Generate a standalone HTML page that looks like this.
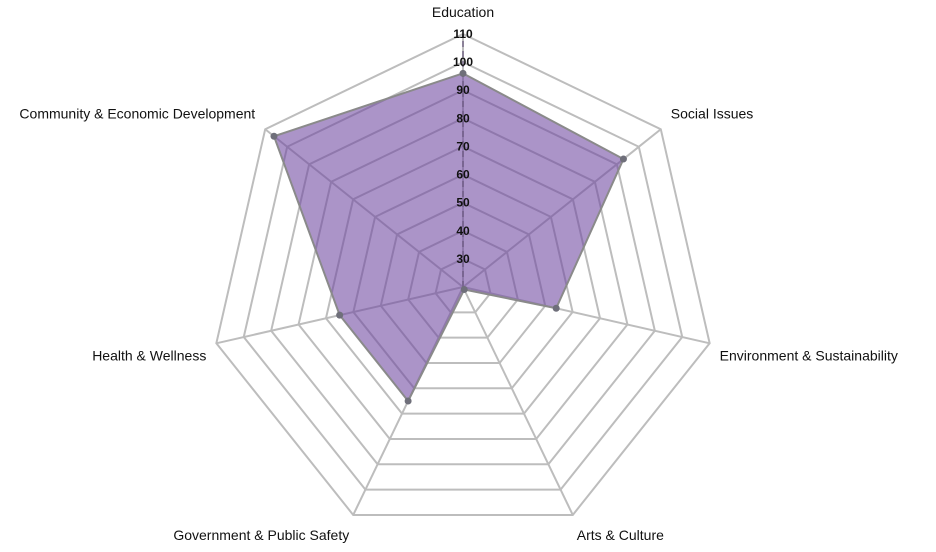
<!DOCTYPE html>
<html><head><meta charset="utf-8"><style>
html,body{margin:0;padding:0;background:#fff;}
svg{display:block;font-family:"Liberation Sans",sans-serif;}
</style></head><body>
<svg id="chart" width="936" height="552"></svg>
<script>
const categories=["Education","Social Issues","Environment & Sustainability","Arts & Culture","Government & Public Safety","Health & Wellness","Community & Economic Development"];
const values=[96,93,54,21,65,65,106];
const ticks=[30,40,50,60,70,80,90,100,110];
const rMin=20, rMax=110;
const cx=463, cy=287, R=253;
const NS="http://www.w3.org/2000/svg";
const svg=document.getElementById('chart');
const n=categories.length;
function rad(v){return (v-rMin)/(rMax-rMin)*R;}
function pt(i,v){const a=i*2*Math.PI/n;const r=rad(v);return [cx+r*Math.sin(a),cy-r*Math.cos(a)];}
function mk(t,attrs){const e=document.createElementNS(NS,t);for(const k in attrs)e.setAttribute(k,attrs[k]);svg.appendChild(e);return e;}
ticks.forEach(t=>{
  const p=categories.map((c,i)=>pt(i,t).join(',')).join(' ');
  const g=mk('polygon',{points:p,fill:'none',stroke:'#bdbdbd','stroke-width':2});
  
  
});
categories.forEach((c,i)=>{
  const [x,y]=pt(i,rMax);
  const l=mk('line',{x1:cx,y1:cy,x2:x,y2:y,stroke:'#bdbdbd','stroke-width':2});
  
  
});
const area=mk('polygon',{points:values.map((v,i)=>pt(i,v).join(',')).join(' '),fill:'rgba(110,70,160,0.58)',stroke:'#8a8a8a','stroke-width':2});


const da=mk('line',{x1:cx,y1:cy,x2:cx,y2:cy-R,stroke:'#6b5a80','stroke-width':2,'stroke-dasharray':'6,4',opacity:0.6});


values.forEach((v,i)=>{
  const [x,y]=pt(i,v);
  const c=mk('circle',{cx:x,cy:y,r:3.5,fill:'#6f6f7a'});
  
  
});
ticks.forEach(t=>{
  const tx=mk('text',{x:cx,y:cy-rad(t)+4,'text-anchor':'middle','font-size':12,'font-weight':'bold',fill:'#111'});
  tx.textContent=t;
  
  
});
categories.forEach((c,i)=>{
  const a=i*2*Math.PI/n;const s=Math.sin(a),co=Math.cos(a);
  let [x,y]=pt(i,rMax);let anchor='middle';
  if(i===0){y-=17;}
  else{
    anchor=s>0?'start':'end';
    x+=s>0?10:-10;
    if(co>0.3)y-=11;else if(co>-0.5)y+=17;else{y+=25;x+=s>0?-6:6;}
  }
  const tx=mk('text',{x:x,y:y,'text-anchor':anchor,'font-size':14,fill:'#111'});
  tx.textContent=c;
  
  
});
</script>
</body></html>
